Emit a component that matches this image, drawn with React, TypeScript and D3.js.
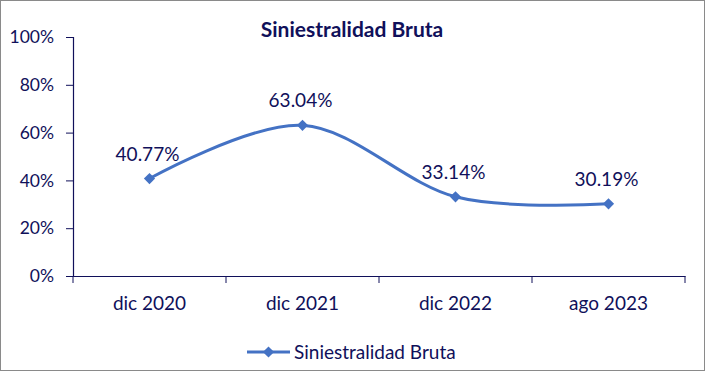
import { useEffect, useRef } from "react";
import * as d3 from "d3";

const categories = ["dic 2020", "dic 2021", "dic 2022", "ago 2023"];
const values = [40.77, 63.04, 33.14, 30.19];
const yTicks = [0, 20, 40, 60, 80, 100];
const seriesName = "Siniestralidad Bruta";

const width = 705;
const height = 371;
const margin = { top: 37, right: 20, bottom: 95, left: 73 };
const textColor = "#10105a";
const lineColor = "#4472C4";
const font = "Lato, 'Open Sans', sans-serif";

export default function App() {
  const svgRef = useRef<SVGSVGElement>(null);

  useEffect(() => {
    if (!svgRef.current) return;
    const svg = d3.select(svgRef.current);
    svg.selectAll("*").remove();

    svg
      .append("rect")
      .attr("x", 0.5)
      .attr("y", 0.5)
      .attr("width", width - 1)
      .attr("height", height - 1)
      .attr("fill", "#fff")
      .attr("stroke", "#8a8a8a");

    const x = d3
      .scaleBand<string>()
      .domain(categories)
      .range([margin.left, width - margin.right]);
    const y = d3
      .scaleLinear()
      .domain([0, 100])
      .range([height - margin.bottom, margin.top]);

    svg
      .append("text")
      .attr("x", 352)
      .attr("y", 37)
      .attr("text-anchor", "middle")
      .attr("fill", textColor)
      .style("font", `bold 21px ${font}`)
      .text(seriesName);

    // y axis
    const yAxis = svg
      .append("g")
      .attr("transform", `translate(${margin.left},0)`)
      .call(
        d3
          .axisLeft(y)
          .tickValues(yTicks)
          .tickSize(7)
          .tickPadding(12)
          .tickFormat((d) => `${d}%`)
      );
    yAxis.select(".domain").attr("stroke", textColor).attr("stroke-width", 1.2);
    yAxis.selectAll(".tick line").attr("stroke", textColor);
    yAxis
      .selectAll(".tick text")
      .attr("fill", textColor)
      .style("font", `17.5px ${font}`);

    // x axis
    const xAxis = svg
      .append("g")
      .attr("transform", `translate(0,${y(0)})`)
      .call(d3.axisBottom(x).tickSize(0).tickPadding(21));
    xAxis.select(".domain").attr("stroke", textColor).attr("stroke-width", 1.2);
    xAxis
      .selectAll(".tick text")
      .attr("fill", textColor)
      .style("font", `19px ${font}`);
    xAxis
      .selectAll(".sep")
      .data([...categories.map((c) => x(c)!), x.range()[1]])
      .join("line")
      .attr("class", "sep")
      .attr("x1", (d) => d)
      .attr("x2", (d) => d)
      .attr("y1", 0)
      .attr("y2", 7)
      .attr("stroke", textColor);

    const cx = (i: number) => x(categories[i])! + x.bandwidth() / 2;

    const line = d3
      .line<number>()
      .x((_, i) => cx(i))
      .y((d) => y(d))
      .curve(d3.curveCatmullRom.alpha(0));

    svg
      .append("path")
      .datum(values)
      .attr("d", line)
      .attr("fill", "none")
      .attr("stroke", lineColor)
      .attr("stroke-width", 3);

    const diamond = d3.symbol(d3.symbolDiamond2, 80);

    svg
      .append("g")
      .selectAll("path")
      .data(values)
      .join("path")
      .attr("d", diamond)
      .attr("transform", (d, i) => `translate(${cx(i)},${y(d)})`)
      .attr("fill", lineColor);

    svg
      .append("g")
      .selectAll("text")
      .data(values)
      .join("text")
      .attr("x", (_, i) => cx(i) - 2)
      .attr("y", (d) => y(d) - 18)
      .attr("text-anchor", "middle")
      .attr("fill", textColor)
      .style("font", `19px ${font}`)
      .text((d) => `${d.toFixed(2)}%`);

    // legend
    const lg = svg.append("g").attr("transform", "translate(247,352)");
    lg.append("line")
      .attr("x1", 0)
      .attr("x2", 43)
      .attr("stroke", lineColor)
      .attr("stroke-width", 3);
    lg.append("path")
      .attr("d", diamond)
      .attr("transform", "translate(21.5,0)")
      .attr("fill", lineColor);
    lg.append("text")
      .attr("x", 47)
      .attr("y", 6.5)
      .attr("fill", textColor)
      .style("font", `19px ${font}`)
      .text(seriesName);
  }, []);

  return (
    <svg
      ref={svgRef}
      width={width}
      height={height}
      style={{ position: "absolute", left: 0, top: 0 }}
    />
  );
}
